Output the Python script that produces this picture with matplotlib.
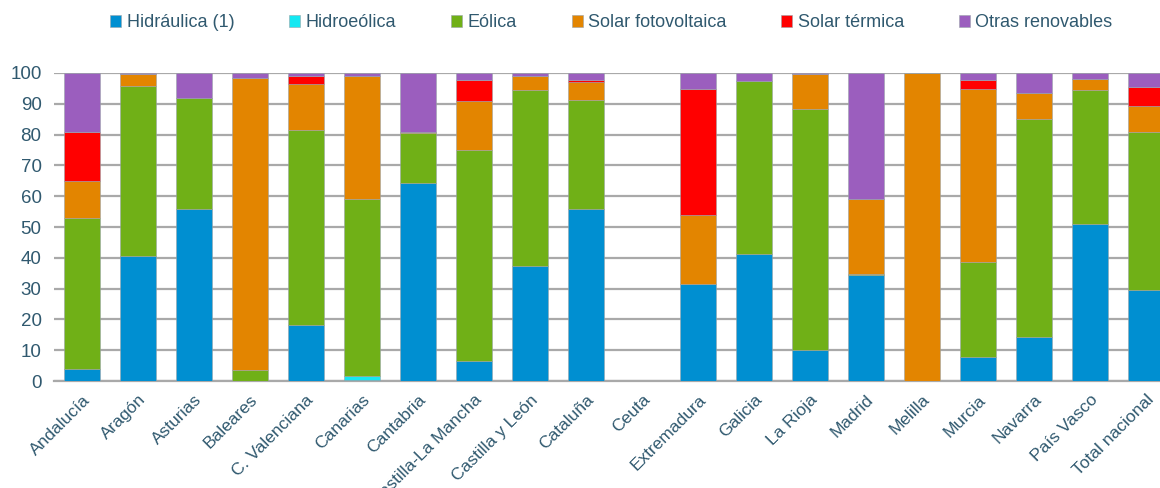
import numpy as np
import matplotlib.pyplot as plt

plt.rcParams['font.family'] = ['Liberation Sans', 'DejaVu Sans']

regiones = ['Andalucía', 'Aragón', 'Asturias', 'Baleares', 'C. Valenciana', 'Canarias',
            'Cantabria', 'Castilla-La Mancha', 'Castilla y León', 'Cataluña', 'Ceuta',
            'Extremadura', 'Galicia', 'La Rioja', 'Madrid', 'Melilla', 'Murcia',
            'Navarra', 'País Vasco', 'Total nacional']

# % de cada tecnología sobre el total renovable de la región
hidraulica = [4.0, 40.6, 55.7, 0.0, 18.1, 0.3, 64.2, 6.5, 37.3, 55.7, 0.0,
              31.6, 41.3, 10.2, 34.4, 0.0, 7.7, 14.2, 51.1, 29.4]
hidroeolica = [0.0, 0.0, 0.0, 0.0, 0.0, 1.3, 0.0, 0.0, 0.0, 0.0, 0.0,
               0.0, 0.0, 0.0, 0.0, 0.0, 0.0, 0.0, 0.0, 0.1]
eolica = [48.9, 55.1, 36.3, 3.7, 63.4, 57.4, 16.2, 68.5, 57.3, 35.5, 0.0,
          0.0, 56.1, 78.1, 0.2, 0.0, 31.0, 70.9, 43.4, 51.3]
fotovoltaica = [11.9, 3.9, 0.0, 94.8, 14.8, 39.9, 0.4, 15.8, 4.4, 5.8, 0.0,
                22.3, 0.0, 11.3, 24.4, 100.0, 56.1, 8.3, 3.7, 8.6]
termica = [16.0, 0.0, 0.0, 0.0, 2.6, 0.0, 0.0, 7.0, 0.0, 0.8, 0.0,
           40.9, 0.0, 0.0, 0.0, 0.0, 3.0, 0.0, 0.0, 5.9]
otras = [19.2, 0.4, 8.0, 1.5, 1.1, 1.1, 19.2, 2.2, 1.0, 2.2, 0.0,
         5.2, 2.6, 0.4, 41.0, 0.0, 2.2, 6.6, 1.8, 4.7]

series = [
    ('Hidráulica (1)', hidraulica, '#008fd1'),
    ('Hidroeólica', hidroeolica, '#14e8f2'),
    ('Eólica', eolica, '#70b017'),
    ('Solar fotovoltaica', fotovoltaica, '#e38500'),
    ('Solar térmica', termica, '#ff0000'),
    ('Otras renovables', otras, '#9b5ebe'),
]

txt = '#30596f'
grid = '#a9a9a9'

fig = plt.figure(figsize=(11.6, 4.88), dpi=100)
ax = fig.add_axes([54 / 1160, 107 / 488, 1120 / 1160, 308 / 488])

x = np.arange(len(regiones))
base = np.zeros(len(regiones))
for nombre, vals, color in series:
    vals = np.array(vals)
    ax.bar(x, vals, bottom=base, width=0.63, color=color, label=nombre,
           edgecolor='#9aa4aa', linewidth=0.4, zorder=3)
    base += vals

ax.set_xlim(-0.5, len(regiones) - 0.5)
ax.set_ylim(0, 100)
ax.set_yticks(range(0, 101, 10))
ax.yaxis.grid(True, color=grid, linewidth=1.6, zorder=0)
for s in ['top', 'right', 'left']:
    ax.spines[s].set_visible(False)
ax.spines['bottom'].set_color(grid)
ax.spines['bottom'].set_linewidth(1.6)
ax.tick_params(axis='both', length=0, labelcolor=txt)
ax.tick_params(axis='y', labelsize=13.5, pad=9)
ax.tick_params(axis='x', pad=8)
ax.set_xticks(x)
ax.set_xticklabels(regiones, rotation=45, ha='right', rotation_mode='anchor',
                   fontsize=12.5)

fig.legend(loc='center', bbox_to_anchor=(0.527, 0.953), ncol=6, frameon=False,
           fontsize=13, handlelength=0.6, handleheight=0.6, handletextpad=0.3,
           columnspacing=3.05, labelcolor=txt)

fig.savefig('out.png', dpi=100)
